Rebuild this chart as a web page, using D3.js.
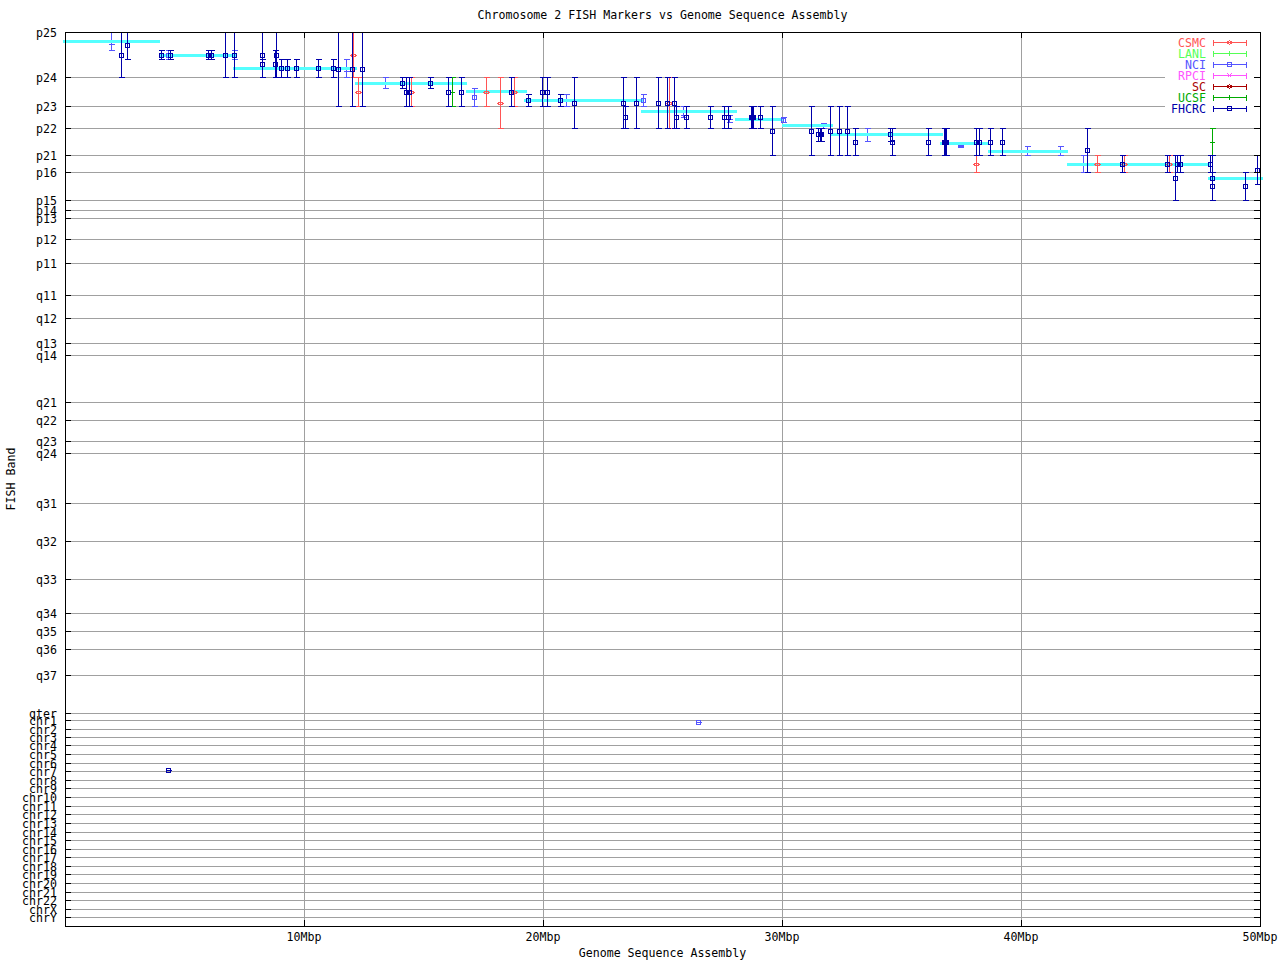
<!DOCTYPE html>
<html><head><meta charset="utf-8">
<script src="https://cdn.jsdelivr.net/npm/d3@7"></script>
<style>
body{margin:0;background:#fff;}
svg{display:block;}
text{font-family:"DejaVu Sans Mono","Liberation Mono",monospace;font-size:11.6px;}
</style>
</head><body>
<svg id="c" width="1280" height="960"></svg>
<script>
// ---------- data ----------
const title = "Chromosome 2 FISH Markers vs Genome Sequence Assembly";
const xLabel = "Genome Sequence Assembly";
const yLabel = "FISH Band";
const xTickValues = [10, 20, 30, 40, 50];
const xTickLabels = ["10Mbp", "20Mbp", "30Mbp", "40Mbp", "50Mbp"];
const bandLabels = ["p25","p24","p23","p22","p21","p16","p15","p14","p13","p12","p11",
  "q11","q12","q13","q14","q21","q22","q23","q24","q31","q32","q33","q34","q35","q36","q37","qter",
  "chr1","chr2","chr3","chr4","chr5","chr6","chr7","chr8","chr9","chr10","chr11","chr12","chr13",
  "chr14","chr15","chr16","chr17","chr18","chr19","chr20","chr21","chr22","chrX","chrY"];
const bandValues = [0,45,74,96,123,140,168,178,186,207,231,
  263,286,311,323,370,388,409,421,471,509,547,581,599,617,643,681,
  688,697,705,713,722,731,739,748,756,765,774,782,791,
  800,808,817,825,834,842,851,860,868,877,885];
const yDomain = [0, 894];
const xDomain = [0, 50];

// sequence assembly segments: [startMbp, endMbp, band position]
const assembly = [
  [-0.07, 3.97, 9], [3.93, 7.15, 23], [7.04, 12.2, 36], [12.13, 16.81, 51],
  [16.77, 19.32, 59], [19.21, 24.23, 67.7], [24.1, 28.1, 79], [28.03, 30.08, 87],
  [29.99, 32.12, 93], [32.03, 36.72, 101.7], [36.61, 38.63, 111], [38.63, 41.98, 119.3],
  [41.94, 47.91, 132], [47.84, 50.11, 146.3]
];

// markers: [Mbp, band, bandLow, bandHigh]
const csmc = [
  [12.04,23.3,0,45],[12.27,60.3,45,74],[14.46,60.3,45,74],[17.60,60.3,45,74],
  [18.21,71.3,45,96],[18.77,60.3,45,74],[25.28,71.3,45,96],[38.10,132.3,96,140],
  [43.19,132,123,140],[44.32,132,123,140],[46.19,132,123,140]
];
const lanl = [];
const nci = [
  [4.29,23.3,18.3,27.3],[7.08,23.3,18.3,27.3],[17.13,65.3,56.3,74],[24.17,68.3,62.3,74],
  [30.05,87.5,85,90],[26.49,690,690,690]
];
const nciBare = [
  [1.94,11.7,0,18.3],[11.76,38.7,27.3,45],[13.40,51,45,56.3],[20.95,68.3,62.3,74],
  [25.87,83.3,74,85.3],[27.79,87,83.3,90.3],[31.73,94,90.7,96],[33.57,102.3,96,109.3],
  [37.46,113.7,112.7,114.7],[40.26,119.3,114.3,123],[41.64,119.3,114.3,123],[42.61,132,123,140]
];
const rpci = [];
const sc = [];
const ucsf = [[16.21,60.3,45,74],[47.99,110.3,96,123]];
const fhcrc = [
  [2.36,23.3,0,45],[2.61,13.3,0,27.3],[4.03,23.3,18.3,27.3],[4.41,23.3,18.3,27.3],
  [6.00,23.3,18.3,27.3],[6.10,23.3,18.3,27.3],[6.71,23.3,0,45],[7.08,23.3,0,45],
  [8.26,23.3,0,45],[8.26,32.3,27.3,45],[8.83,23.3,0,45],[8.80,32.3,18.3,45],
  [9.05,36.3,27.3,45],[9.30,36.3,27.3,45],[9.68,36.3,27.3,45],[10.60,36.3,27.3,45],
  [11.23,36.3,27.3,45],[11.44,37.3,0,74],[12.02,37.3,0,74],[12.44,37.3,0,74],
  [14.11,51,45,56.3],[14.25,60.3,45,74],[14.39,60.3,45,74],[15.28,51,45,56.3],
  [16.04,60.3,45,74],[16.58,60.3,45,74],[18.67,60.3,45,74],[19.38,68.3,62.3,74],
  [19.97,60.3,45,74],[20.15,60.3,45,74],[20.72,68.3,62.3,74],[21.31,71.3,45,96],
  [23.36,71.3,45,96],[23.44,85.3,74,96],[23.88,71.3,45,96],[24.82,71.3,45,96],
  [25.20,71.3,45,96],[25.49,71.3,45,96],[25.58,85.3,74,96],[26.00,85.3,74,96],
  [27.00,85.3,74,96],[27.57,85.3,74,96],[27.73,85.3,74,96],[28.69,85.3,74,96],
  [28.73,85.3,74,96],[28.77,85.3,74,96],[29.09,85.3,74,96],[29.59,99.3,74,123],
  [31.23,99.3,74,123],[31.51,102.3,96,109.3],[31.59,102.3,96,109.3],[31.64,102.3,96,109.3],
  [32.02,99.3,74,123],[32.40,99.3,74,123],[32.73,99.3,74,123],[33.07,110.3,96,123],
  [34.53,102.3,96,109.3],[34.62,110.3,96,123],[36.12,110.3,96,123],[36.77,110.3,96,123],
  [36.81,110.3,96,123],[36.85,110.3,96,123],[38.10,110.3,96,123],[38.23,110.3,96,123],
  [38.72,110.3,96,123],[39.22,110.3,96,123],[42.77,118.3,96,140],[44.24,132,123,140],
  [46.11,132,123,140],[46.46,146.3,123,168],[46.54,132,123,140],[46.67,132,123,140],
  [47.91,132,123,140],[47.99,146.3,123,168],[47.99,154.3,140,168],[49.38,154.3,140,168],
  [49.87,138.3,123,152.3],[4.31,738,738,738]
];
const sources = ["CSMC","LANL","NCI","RPCI","SC","UCSF","FHCRC"];
const sourceColors = ["#ff5555","#55ff55","#5555ff","#ff55ff","#aa0000","#00aa00","#0000aa"];
const sourceMarkers = ["diamond","plus","square","cross","diamond","plus","square"];

// ---------- drawing ----------
const svg = d3.select("#c");
const L = 65, R = 1260, T = 32, B = 926;
const x = d3.scaleLinear().domain(xDomain).range([L, R]);
const y = d3.scaleLinear().domain(yDomain).range([T, B]);
const sx = v => Math.round(x(v)) + 0.5;
const sy = v => Math.round(y(v)) + 0.5;
const GRID = "#a0a0a0";

// grid
const grid = svg.append("g").attr("shape-rendering", "crispEdges");
grid.selectAll("line.h").data(bandValues).join("line")
  .attr("x1", L).attr("x2", R).attr("y1", d => sy(d)).attr("y2", d => sy(d))
  .attr("stroke", GRID).attr("stroke-width", 1);
grid.selectAll("line.v").data(xTickValues.filter(v => v < xDomain[1])).join("line")
  .attr("x1", d => sx(d)).attr("x2", d => sx(d)).attr("y1", T).attr("y2", B)
  .attr("stroke", GRID).attr("stroke-width", 1);

// key background
svg.append("rect").attr("x", 1165).attr("y", T + 1).attr("width", R - 1165 - 1).attr("height", 83)
  .attr("fill", "#fff");

function drawMarker(g, type, cx, cy, color) {
  if (type === "square") {
    g.append("rect").attr("x", cx - 2).attr("y", cy - 2).attr("width", 4).attr("height", 4)
      .attr("fill", "none").attr("stroke", color).attr("stroke-width", 1);
  } else if (type === "diamond") {
    g.append("path").attr("d", `M${cx-2.5},${cy}L${cx},${cy-2}L${cx+2.5},${cy}L${cx},${cy+2}Z`)
      .attr("fill", "none").attr("stroke", color).attr("stroke-width", 1);
  } else if (type === "plus") {
    g.append("line").attr("x1", cx - 2.5).attr("x2", cx + 2.5).attr("y1", cy).attr("y2", cy)
      .attr("stroke", color);
    g.append("line").attr("x1", cx).attr("x2", cx).attr("y1", cy - 2.5).attr("y2", cy + 2.5)
      .attr("stroke", color);
  } else if (type === "cross") {
    g.append("path").attr("d", `M${cx-2},${cy-2}L${cx+2},${cy+2}M${cx-2},${cy+2}L${cx+2},${cy-2}`)
      .attr("stroke", color).attr("fill", "none");
  } else if (type === "tick") {
    g.append("line").attr("x1", cx - 3).attr("x2", cx + 3).attr("y1", cy).attr("y2", cy)
      .attr("stroke", color);
  }
}

function drawSeries(data, color, marker) {
  const g = svg.append("g").attr("shape-rendering", "crispEdges");
  data.forEach(d => {
    const cx = sx(d[0]), cy = sy(d[1]), y0 = sy(d[2]), y1 = sy(d[3]);
    if (y1 > y0) g.append("line").attr("x1", cx).attr("x2", cx).attr("y1", y0).attr("y2", y1)
      .attr("stroke", color).attr("stroke-width", 1);
    [y0, y1].forEach(yy => g.append("line").attr("x1", cx - 3).attr("x2", cx + 3)
      .attr("y1", yy).attr("y2", yy).attr("stroke", color).attr("stroke-width", 1));
    drawMarker(g, marker, cx, cy, color);
  });
}

// NCI bars without squares (under the assembly)
drawSeries(nciBare, sourceColors[2], "tick");

// assembly
svg.append("g").selectAll("line").data(assembly).join("line")
  .attr("x1", d => x(d[0])).attr("x2", d => x(d[1]))
  .attr("y1", d => sy(d[2])).attr("y2", d => sy(d[2]))
  .attr("stroke", "#55ffff").attr("stroke-width", 3.5).attr("shape-rendering", "crispEdges");

drawSeries(csmc, sourceColors[0], sourceMarkers[0]);
drawSeries(lanl, sourceColors[1], sourceMarkers[1]);
drawSeries(nci, sourceColors[2], sourceMarkers[2]);
drawSeries(rpci, sourceColors[3], sourceMarkers[3]);
drawSeries(sc, sourceColors[4], sourceMarkers[4]);
drawSeries(ucsf, sourceColors[5], sourceMarkers[5]);
drawSeries(fhcrc, sourceColors[6], sourceMarkers[6]);

// border
svg.append("rect").attr("x", L + 0.5).attr("y", T + 0.5).attr("width", R - L).attr("height", B - T)
  .attr("fill", "none").attr("stroke", "#000").attr("stroke-width", 1).attr("shape-rendering", "crispEdges");

// ticks
const tk = svg.append("g").attr("shape-rendering", "crispEdges").attr("stroke", "#000");
bandValues.forEach(v => {
  tk.append("line").attr("x1", L).attr("x2", L + 6).attr("y1", sy(v)).attr("y2", sy(v));
  tk.append("line").attr("x1", R - 6).attr("x2", R).attr("y1", sy(v)).attr("y2", sy(v));
});
xTickValues.forEach(v => {
  tk.append("line").attr("x1", sx(v)).attr("x2", sx(v)).attr("y1", T).attr("y2", T + 6);
  tk.append("line").attr("x1", sx(v)).attr("x2", sx(v)).attr("y1", B - 6).attr("y2", B);
});

// y labels
svg.append("g").selectAll("text").data(bandLabels).join("text")
  .attr("x", 57).attr("y", (d, i) => sy(bandValues[i])).attr("dy", "0.36em")
  .attr("text-anchor", "end").attr("fill", "#000").text(d => d);

// x labels
svg.append("g").selectAll("text").data(xTickLabels).join("text")
  .attr("x", (d, i) => x(xTickValues[i])).attr("y", 941)
  .attr("text-anchor", "middle").attr("fill", "#000").text(d => d);

svg.append("text").attr("x", (L + R) / 2).attr("y", 19).attr("text-anchor", "middle").text(title);
svg.append("text").attr("x", (L + R) / 2).attr("y", 957).attr("text-anchor", "middle").text(xLabel);
svg.append("text").attr("transform", `translate(15,${(T + B) / 2}) rotate(-90)`)
  .attr("text-anchor", "middle").text(yLabel);

// legend
const lg = svg.append("g");
sources.forEach((s, i) => {
  const ry = 42.5 + i * 11;
  const c = sourceColors[i];
  lg.append("text").attr("x", 1206).attr("y", ry).attr("dy", "0.36em")
    .attr("text-anchor", "end").attr("fill", c).text(s);
  const g = lg.append("g").attr("shape-rendering", "crispEdges");
  g.append("line").attr("x1", 1213.5).attr("x2", 1246.5).attr("y1", ry).attr("y2", ry).attr("stroke", c);
  [1213.5, 1246.5].forEach(xx => g.append("line").attr("x1", xx).attr("x2", xx)
    .attr("y1", ry - 3).attr("y2", ry + 3).attr("stroke", c));
  drawMarker(g, sourceMarkers[i], 1229.5, ry, c);
});
</script>
</body></html>
